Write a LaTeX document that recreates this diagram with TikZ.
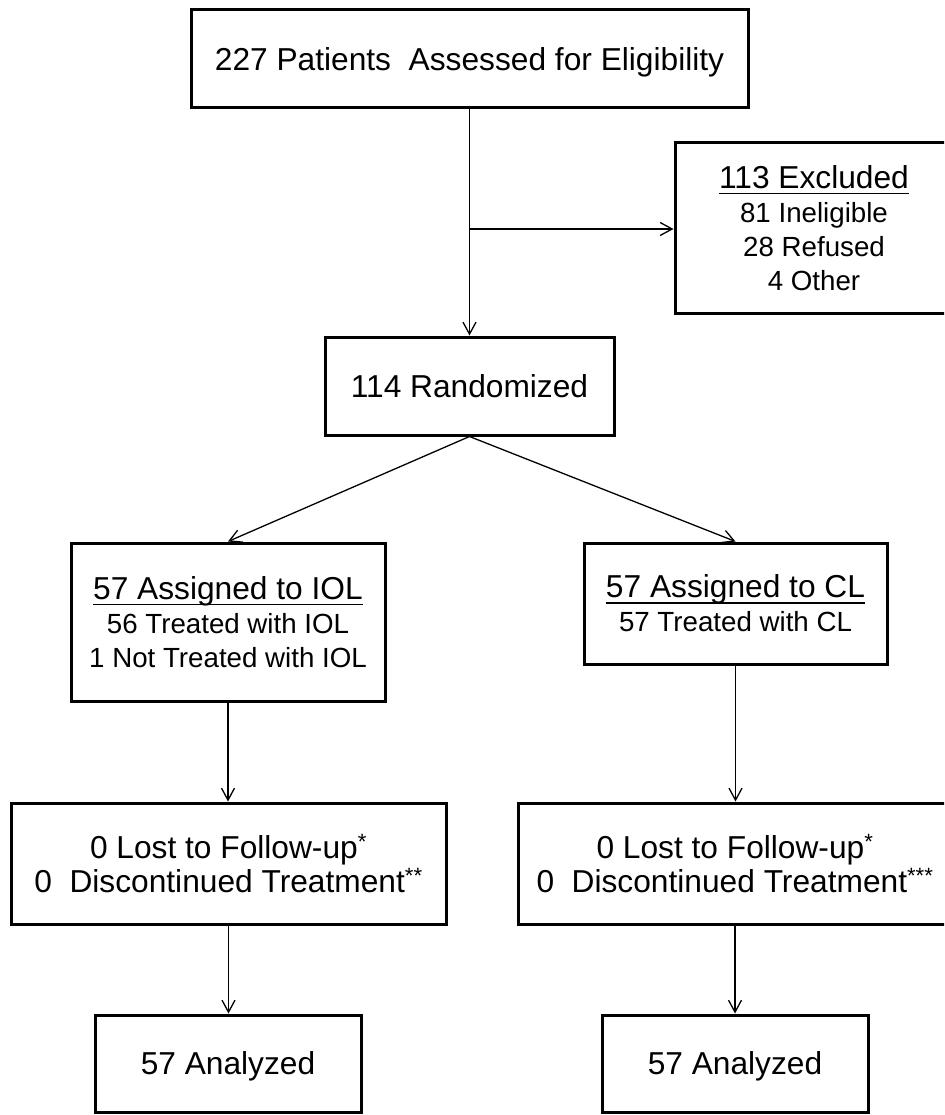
\documentclass[tikz,border=0pt]{standalone}
\usepackage{fontspec}
\setmainfont{Liberation Sans}
\usetikzlibrary{arrows.meta}
\newcommand\mainsz{\fontsize{31.7}{34}\selectfont}
\newcommand\subsz{\fontsize{27.7}{34}\selectfont}
\newcommand\myul[1]{\setbox0=\hbox{#1}\rlap{\rule[-6pt]{\wd0}{1.9pt}}\box0}
\begin{document}
\begin{tikzpicture}[x=1pt,y=-1pt,
  box/.style={draw, line width=3pt, inner sep=0pt, align=center, text depth=0pt, font=\mainsz},
  arr/.style={line width=1.3pt, -{Straight Barb[length=12pt,width=13pt,line width=1.3pt]}},
  link/.style={line width=1.3pt}]
\useasboundingbox (0,0) rectangle (944,1115);
\clip (0,0) rectangle (944,1115);
\fill[white] (0,0) rectangle (944,1115);

\node[box, minimum width=557pt, minimum height=98pt] (top) at (469.5,59) {227 Patients\ \ Assessed for Eligibility};
\node[box, minimum width=278pt, minimum height=170pt, font=\subsz] (excl) at (814,228)
  {{\mainsz\myul{113 Excluded}}\\81 Ineligible\\28 Refused\\4 Other};
\node[box, minimum width=289pt, minimum height=98pt] (rand) at (469.5,386) {114 Randomized};
\node[box, minimum width=314pt, minimum height=158pt, font=\subsz] (iol) at (228,622)
  {{\mainsz\myul{57 Assigned to IOL}}\\56 Treated with IOL\\1 Not Treated with IOL};
\node[box, minimum width=303pt, minimum height=121pt, font=\subsz] (cl) at (735.5,603.5)
  {{\mainsz\myul{57 Assigned to CL}}\\57 Treated with CL};
\node[box, minimum width=435pt, minimum height=121pt] (fuL) at (228.5,863.5)
  {0 Lost to Follow-up\textsuperscript{*}\\0\ \ Discontinued Treatment\textsuperscript{**}};
\node[box, minimum width=434pt, minimum height=121pt] (fuR) at (735,863.5)
  {0 Lost to Follow-up\textsuperscript{*}\\0\ \ Discontinued Treatment\textsuperscript{***}};
\node[box, minimum width=266pt, minimum height=97pt] (anL) at (228,1063.5) {57 Analyzed};
\node[box, minimum width=266pt, minimum height=97pt] (anR) at (735,1063.5) {57 Analyzed};

\coordinate (br) at (469.5,229);
\draw[arr] (top.south) -- (rand.north);
\draw[arr] (br) -- (br -| excl.west);
\draw[arr] (rand.south) -- (iol.north);
\draw[arr] (rand.south) -- (cl.north);
\draw[arr] (iol.south) -- (iol.south |- fuL.north);
\draw[arr] (cl.south) -- (cl.south |- fuR.north);
\draw[arr] (fuL.south) -- (fuL.south |- anL.north);
\draw[arr] (fuR.south) -- (fuR.south |- anR.north);
\end{tikzpicture}
\end{document}
